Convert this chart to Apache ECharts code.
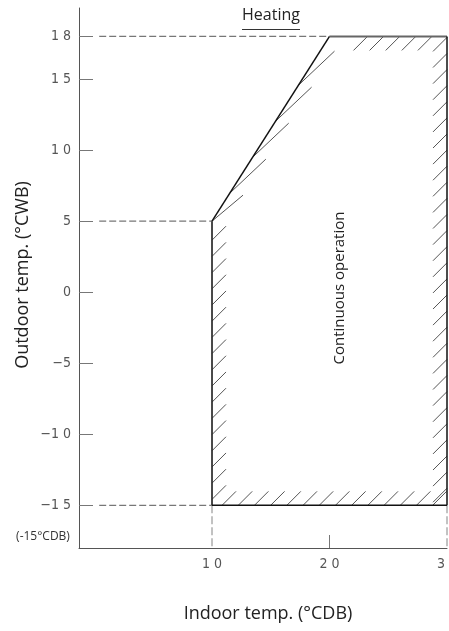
<!DOCTYPE html>
<html><head><meta charset="utf-8">
<script src="https://cdn.jsdelivr.net/npm/echarts@6/dist/echarts.min.js"></script>
<style>html,body{margin:0;padding:0;background:#fff}#c{width:449px;height:631px}</style>
</head><body><div id="c"></div>
<script>
// ---- data ----
const yTicks = [18, 15, 10, 5, 0, -5, -10, -15];
const xTicks = [10, 20, 30];
const xTickMarks = [20];
const boundary = [[10, -15], [10, 5], [20, 18], [30, 18], [30, -15]];
const guide18 = [[0.4, 18], [20, 18]];
const guide5 = [[0.4, 5], [10, 5]];
const guideM15 = [[0.4, -15], [10, -15]];
const guideV10 = [[10, -15], [10, -18]];
const guideV30 = [[30, -15], [30, -18]];

const NUM_FONT = "'Liberation Sans Narrow','DejaVu Sans Condensed','Roboto Condensed',sans-serif";
const TXT_FONT = "'Open Sans','Noto Sans',sans-serif";

function spaced(v) {
  const s = String(Math.abs(v)).split('').join(' ');
  return (v < 0 ? '\u2212' : '') + s;
}

function renderBoundary(params, api) {
  const P = boundary.map(p => api.coord(p));
  const [A, B, C, D, E] = P;
  const children = [];
  const hs = { stroke: '#555', lineWidth: 1 };
  const seg = (x1, y1, x2, y2, style) =>
    children.push({ type: 'line', shape: { x1, y1, x2, y2 }, style });
  const L = 14;
  // left edge hatch
  for (let y = A[1] - 6; y > B[1] + 14; y -= 16.2) seg(A[0], y, A[0] + L, y - L, hs);
  // bottom edge hatch
  for (let x = A[0] + 10; x + L <= E[0] + 0.5; x += 16.2) seg(x, A[1], x + L, A[1] - L, hs);
  // right edge hatch (ending on edge)
  for (let y = D[1] + 1; y <= E[1] - 16; y += 16.1) seg(E[0] - L, y + L, E[0], y, hs);
  // top edge hatch (ending on edge)
  for (let xe = C[0] + 38; xe <= D[0] - 12; xe += 16.1) seg(xe - L, D[1] + L, xe, D[1], hs);
  // diagonal edge hatch
  const onDiag = y => B[0] + (B[1] - y) / (B[1] - C[1]) * (C[0] - B[0]);
  seg(B[0], B[1], B[0] + 31, B[1] - 26, hs);
  for (let y = B[1] - 28; y > C[1] + 20; y -= 36) {
    const x = onDiag(y);
    let x2 = x + 36, y2 = y - 34;
    if (y2 < C[1] + 8) { const f = (y - (C[1] + 8)) / 34; x2 = x + 36 * f; y2 = C[1] + 8; }
    seg(x, y, x2, y2, hs);
  }
  // outline
  seg(A[0], A[1], B[0], B[1], { stroke: '#2a2a2a', lineWidth: 1.7 });
  seg(B[0], B[1], C[0], C[1], { stroke: '#111', lineWidth: 1.5 });
  seg(C[0], C[1], D[0], D[1], { stroke: '#666', lineWidth: 2 });
  seg(D[0], D[1], E[0], E[1], { stroke: '#111', lineWidth: 1.5 });
  seg(E[0], E[1], A[0], A[1], { stroke: '#111', lineWidth: 1.5 });
  return { type: 'group', children };
}

const dashStyle = { type: [7, 3], color: '#777', width: 1.2 };
function guide(data, style) {
  return { type: 'line', data, symbol: 'none', silent: true, z: 1,
    lineStyle: Object.assign({}, dashStyle, style || {}) };
}

const chart = echarts.init(document.getElementById('c'), null, { renderer: 'canvas' });
chart.setOption({
  animation: false,
  backgroundColor: '#fff',
  grid: { left: 79, right: 2, top: 8, bottom: 83, containLabel: false, outerBoundsMode: 'none' },
  xAxis: {
    type: 'value', min: -1.32, max: 30,
    axisLine: { show: true, onZero: false, lineStyle: { color: '#555', width: 1 } },
    axisTick: { show: true, inside: true, length: 13, customValues: xTickMarks, lineStyle: { color: '#777' } },
    axisLabel: { customValues: xTicks, formatter: spaced, margin: 9, fontFamily: NUM_FONT, fontSize: 14, color: '#555' },
    splitLine: { show: false }
  },
  yAxis: {
    type: 'value', min: -18, max: 20,
    axisLine: { show: true, onZero: false, lineStyle: { color: '#555', width: 1 } },
    axisTick: { show: true, inside: true, length: 14, customValues: yTicks, lineStyle: { color: '#777' } },
    axisLabel: { customValues: yTicks, formatter: spaced, margin: 8, fontFamily: NUM_FONT, fontSize: 14, color: '#555' },
    splitLine: { show: false }
  },
  series: [
    guide(guide18),
    guide(guide5),
    guide(guideM15),
    guide(guideV10, { color: '#999', type: [8, 3] }),
    guide(guideV30, { color: '#999', type: [8, 3] }),
    { type: 'custom', coordinateSystem: 'cartesian2d', renderItem: renderBoundary,
      data: [[10, -15]], silent: true, z: 3, clip: false }
  ],
  graphic: [
    { type: 'text', x: 271, y: 15.5, style: { text: 'Heating', font: '16px ' + TXT_FONT, fill: '#222', textAlign: 'center', textVerticalAlign: 'middle' } },
    { type: 'line', shape: { x1: 242, y1: 29.5, x2: 300, y2: 29.5 }, style: { stroke: '#333', lineWidth: 1 } },
    { type: 'text', x: 23, y: 275, rotation: Math.PI / 2, style: { text: 'Outdoor temp. (°CWB)', font: '18px ' + TXT_FONT, fill: '#222', textAlign: 'center', textVerticalAlign: 'middle' } },
    { type: 'text', x: 268, y: 614, style: { text: 'Indoor temp. (°CDB)', font: '18px ' + TXT_FONT, fill: '#222', textAlign: 'center', textVerticalAlign: 'middle' } },
    { type: 'text', x: 340, y: 288, rotation: Math.PI / 2, style: { text: 'Continuous operation', font: '15px ' + TXT_FONT, fill: '#222', textAlign: 'center', textVerticalAlign: 'middle' } },
    { type: 'text', x: 43, y: 537, style: { text: '(-15°CDB)', font: '12px ' + TXT_FONT, fill: '#333', textAlign: 'center', textVerticalAlign: 'middle' } }
  ]
});
</script></body></html>
